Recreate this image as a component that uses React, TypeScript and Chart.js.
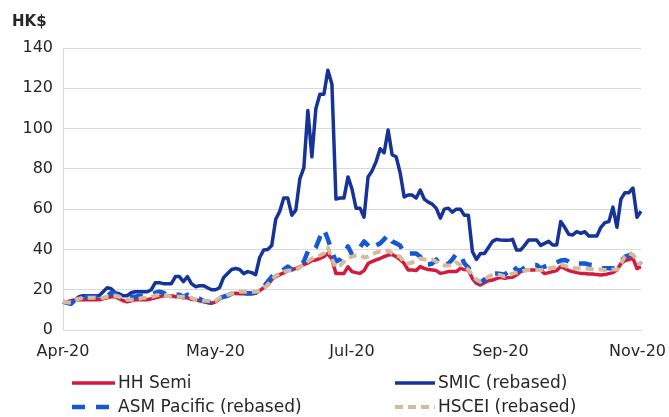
import React, { useEffect, useRef } from "react";
import { Chart, registerables } from "chart.js";

Chart.register(...registerables);

const tickIndices = [0, 38, 72, 109, 144];
const tickLabels = ["Apr-20", "May-20", "Jul-20", "Sep-20", "Nov-20"];

const hhSemi = [
  14, 14, 14.5, 15, 15, 15, 15, 15, 15, 15,
  15.5, 16, 16.5, 16.5, 15.5, 14.5, 14, 14.5, 15, 15,
  15, 15, 15.5, 16, 16.5, 17, 17, 17, 16.5, 16.5,
  16, 16, 15.2, 15, 14.5, 14, 14, 13.2, 14, 15.5,
  16.5, 17.5, 18, 18.2, 18, 18, 17.9, 18, 18.2, 19.5,
  21, 22.3, 25, 26.5, 27.5, 28.3, 29.5, 30, 30.5, 31.4,
  32.5, 33.2, 34.5, 34.8, 35.5, 36.4, 38, 35, 28.1, 28.1,
  28.1, 31.4, 29, 28.5, 28.1, 29.5, 33, 34, 34.8, 35.5,
  36.4, 37.2, 37.5, 36.4, 35, 33, 29.8, 29.8, 29.5, 31.5,
  30.6, 30, 29.8, 29.5, 28.1, 28.5, 29, 29, 29, 30.6,
  30, 29.8, 25.5, 23.2, 22.3, 23.5, 24.5, 24.8, 25.5, 26.2,
  25.7, 26, 26.2, 27.3, 29, 29.5, 29.8, 29.8, 29.8, 29.8,
  28, 28.5, 29, 29.5, 31.5, 30.6, 29.5, 29, 28.5, 28.1,
  28, 27.8, 27.8, 27.5, 27.3, 27.5, 28, 28.5, 29.8, 33,
  34.5, 35, 35.6, 30.5, 31.4,
];

const smic = [
  14, 13.5, 13, 15, 16.5, 17, 17, 17, 17, 17,
  19, 21, 20.5, 18.5, 18, 17, 17, 18.5, 19, 19,
  19, 19, 20, 23.5, 23.5, 23, 23, 23, 26.5, 26.5,
  24, 26.5, 23, 21.5, 22, 22, 21, 20, 20, 21,
  26, 28, 30, 30.5, 30, 28, 29, 28.5, 27.5, 36,
  39.7, 40, 42, 55, 59, 65.5, 65.5, 57, 59.5, 75,
  80.5, 109, 86, 110, 117, 117, 129, 122, 65, 65.5,
  65.5, 76, 70, 60.5, 60.5, 56, 76, 79, 83.6, 90,
  88, 99.3, 87, 86, 78, 66, 67, 67, 65.5, 69.5,
  65, 63.5, 62.5, 60.4, 55.5, 60, 60.5, 58.5, 60, 60,
  57, 57, 39, 35, 38, 38, 41, 44, 45, 44.7,
  44.5, 44.5, 45, 39.7, 39.7, 42, 44.7, 44.7, 44.7, 42,
  43, 44, 42.2, 42.2, 53.8, 51, 47.5, 47.2, 48.8, 48,
  48.8, 46.7, 46.7, 46.7, 51, 53.3, 53.8, 61, 51, 65,
  68.2, 68.2, 70.5, 56, 59,
];

const asmPacific = [
  14, 13.5, 13, 15, 16, 16.5, 16.5, 16.5, 16.5, 16.5,
  16.5, 17, 18.5, 18, 16.5, 16, 16, 16.5, 16.5, 17,
  17, 17, 17.5, 18.5, 19, 18.5, 17.5, 17.5, 17.5, 17.5,
  16.5, 17.5, 16.5, 16, 15.5, 14.5, 13.8, 13.5, 14.5, 16,
  16.5, 17, 18, 18.5, 18.5, 18.5, 18.3, 18.3, 18.5, 19,
  21.5, 24, 26.5, 28, 29, 30, 31.5, 30, 31, 32,
  34, 39, 38, 41, 46, 50, 45, 39, 34, 35,
  38, 41.5, 37.5, 38, 41, 44, 42, 40, 42, 43,
  45, 47.5, 44, 43, 42, 38, 38, 38, 38, 36.4,
  32.5, 32.5, 33, 35, 32, 32, 33, 35, 38, 37.5,
  33, 31, 27.5, 24.8, 23.5, 25, 27, 28, 28, 27.8,
  27.5, 29, 32, 30, 29.5, 31, 32.3, 32.3, 32.3, 30.6,
  31.5, 32.3, 32.5, 33.5, 34.5, 34.8, 34, 32.6, 33, 33,
  33, 32.5, 32.3, 31, 30.6, 30.6, 30.6, 30.6, 31, 34,
  36.4, 37, 38, 35, 32.3,
];

const hscei = [
  14, 13.8, 13.5, 15, 15.5, 16, 16, 16, 16, 16,
  16, 16.5, 17, 17, 16.5, 15.5, 15, 15, 15, 15.5,
  16, 16, 16.5, 17, 17.5, 17.5, 17, 16.5, 16.5, 16.5,
  16.5, 16.5, 16, 15, 15, 14.5, 14.5, 14, 14.5, 16,
  16.5, 17.5, 18, 18.5, 19, 19, 19, 19, 19, 19.5,
  20.5, 22.5, 25, 27, 28, 29, 29.5, 29.5, 30, 31,
  33, 34, 35.5, 36, 37, 38, 41, 35, 31, 32,
  34, 36, 36.4, 37, 37.2, 36, 36.5, 37.5, 38.5, 39,
  39, 39.5, 38, 37, 36.4, 33.5, 33, 33.5, 34.8, 35.5,
  35, 35, 35, 34, 32.5, 32, 32, 32, 33.5, 32.3,
  31.5, 30, 27.3, 25, 24, 25, 26.5, 27.3, 27.3, 27.3,
  26.5, 27, 28, 28.5, 29, 29.5, 29.8, 29.8, 29.8, 29.8,
  30, 30.6, 31, 31, 32.3, 32, 31, 30.6, 30.6, 30.6,
  30.6, 30.4, 30.2, 30, 30, 29.8, 29.8, 30, 30, 33,
  36.6, 38, 37.4, 34.8, 32.3,
];

const seriesNames = ["HH Semi", "SMIC (rebased)", "ASM Pacific (rebased)", "HSCEI (rebased)"];
const yTicks = [0, 20, 40, 60, 80, 100, 120, 140];

const FONT = "'DejaVu Sans', sans-serif";
const TEXT = "#262626";

const styles = [
  { color: "#D31A3D", width: 3.5, dash: [] as number[] },
  { color: "#163399", width: 3.5, dash: [] as number[] },
  { color: "#1558D6", width: 4.5, dash: [13, 11] },
  { color: "#D3BB9B", width: 4, dash: [8, 5] },
];

const legendPlugin = {
  id: "customLegend",
  afterDraw(chart: any) {
    const { ctx, chartArea } = chart;
    const xs = chart.scales.x;
    ctx.save();
    // x tick labels, kept inside the canvas
    ctx.font = `16px ${FONT}`;
    ctx.fillStyle = TEXT;
    ctx.textBaseline = "middle";
    ctx.textAlign = "left";
    tickIndices.forEach((idx, k) => {
      const label = tickLabels[k];
      const w = ctx.measureText(label).width;
      let x = xs.getPixelForValue(idx) - w / 2;
      x = Math.min(x, chart.width - 3 - w);
      x = Math.max(x, 2);
      ctx.fillText(label, x, chartArea.bottom + 22);
    });

    const cols = [chartArea.left + 9, chartArea.left + 332];
    const lineLen = [43, 40];
    const rows = [chartArea.bottom + 53, chartArea.bottom + 77];
    ctx.font = `17px ${FONT}`;
    seriesNames.forEach((name, i) => {
      const c = i % 2;
      const r = Math.floor(i / 2);
      const x = cols[c];
      const y = rows[r];
      const s = styles[i];
      ctx.beginPath();
      ctx.strokeStyle = s.color;
      ctx.lineWidth = s.width;
      ctx.setLineDash(s.dash);
      ctx.lineCap = "butt";
      ctx.moveTo(x, y);
      ctx.lineTo(x + lineLen[c], y);
      ctx.stroke();
      ctx.setLineDash([]);
      ctx.fillStyle = TEXT;
      ctx.textAlign = "left";
      ctx.fillText(name, x + lineLen[c] + 3, y + 1);
    });
    ctx.font = `bold 15px ${FONT}`;
    ctx.fillText("HK$", 12, 22);
    ctx.restore();
  },
};

export default function App() {
  const ref = useRef<HTMLCanvasElement | null>(null);
  useEffect(() => {
    if (!ref.current) return;
    const labels = hhSemi.map((_, i) => {
      const k = tickIndices.indexOf(i);
      return k >= 0 ? tickLabels[k] : "";
    });
    const data = [hhSemi, smic, asmPacific, hscei];
    const chart = new Chart(ref.current, {
      type: "line",
      data: {
        labels,
        datasets: data.map((d, i) => ({
          label: seriesNames[i],
          data: d,
          borderColor: styles[i].color,
          backgroundColor: styles[i].color,
          borderWidth: styles[i].width,
          borderDash: styles[i].dash,
          borderJoinStyle: "round" as const,
          pointRadius: 0,
          tension: 0,
          fill: false,
          order: 4 - i,
        })),
      },
      options: {
        responsive: false,
        animation: false,
        layout: { padding: { top: 48, right: 28, left: 0, bottom: 0 } },
        plugins: { legend: { display: false }, tooltip: { enabled: false } },
        scales: {
          x: {
            type: "category",
            grid: { display: false, drawTicks: false },
            border: { display: true, color: "#D9D9D9", width: 1 },
            ticks: { display: false, autoSkip: false },
            afterBuildTicks: (scale: any) => {
              scale.ticks = tickIndices.map((v) => ({ value: v }));
            },
            afterFit: (scale: any) => {
              scale.height = 87;
              scale.paddingLeft = 0;
              scale.paddingRight = 0;
            },
          },
          y: {
            min: 0,
            max: 140,
            grid: { color: "#D9D9D9", lineWidth: 1, drawTicks: false },
            border: { display: true, color: "#D9D9D9", width: 1 },
            ticks: {
              stepSize: 20,
              padding: 10,
              color: TEXT,
              font: { family: FONT, size: 16 },
            },
            afterBuildTicks: (scale: any) => {
              scale.ticks = yTicks.map((v) => ({ value: v }));
            },
            afterFit: (scale: any) => {
              scale.width = 63;
              scale.paddingTop = 0;
              scale.paddingBottom = 0;
            },
          },
        },
      },
      plugins: [legendPlugin],
    });
    return () => chart.destroy();
  }, []);
  return (
    <div style={{ position: "absolute", left: 0, top: 0, width: 669, height: 417, background: "#fff" }}>
      <canvas ref={ref} width={669} height={417} />
    </div>
  );
}
